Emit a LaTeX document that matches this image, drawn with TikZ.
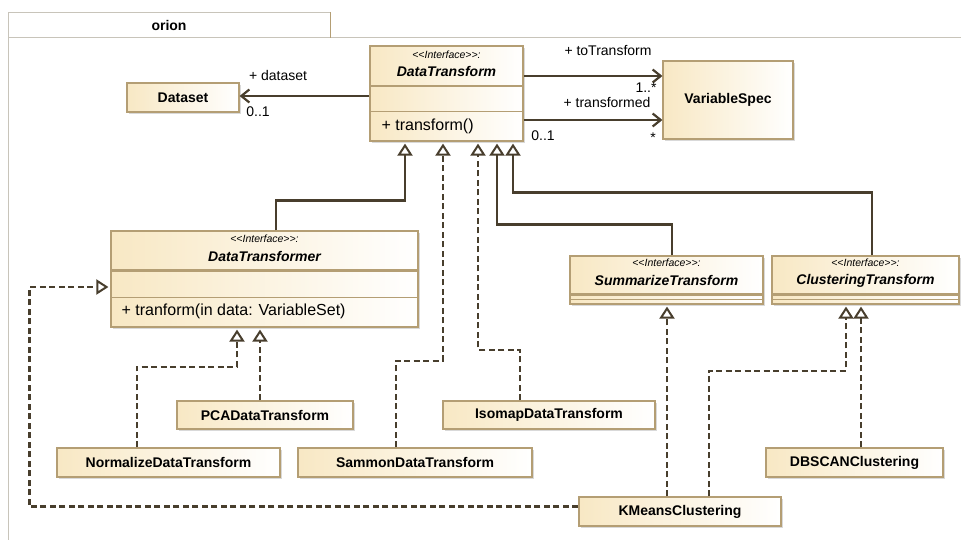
\documentclass[tikz,border=0pt]{standalone}
\usepackage{fontspec}
\setmainfont{Liberation Sans}
\usetikzlibrary{arrows.meta}
\usetikzlibrary{calc}
\usetikzlibrary{shadows}

\definecolor{umlline}{RGB}{72,62,45}
\definecolor{umlborder}{RGB}{180,158,116}
\definecolor{umlfill}{RGB}{248,232,196}
\definecolor{framegray}{RGB}{200,196,186}

\newcommand{\iface}{<\kern0pt<Interface>\kern0pt>:}

\tikzset{
  classbox/.style={draw=umlborder, line width=1.2pt, left color=umlfill, right color=white,
    inner sep=0pt, drop shadow={shadow xshift=2pt, shadow yshift=-2pt, fill=black, opacity=0.15}},
  classname/.style={font=\fontsize{14}{16}\selectfont\bfseries},
  ifacename/.style={font=\fontsize{14}{16}\selectfont\bfseries\itshape},
  stereo/.style={font=\fontsize{10.5}{12}\selectfont\itshape},
  member/.style={font=\fontsize{16}{18}\selectfont, anchor=west, inner sep=0pt},
  role/.style={font=\fontsize{14}{16}\selectfont, inner sep=0pt},
  compart/.style={draw=umlborder, line width=1.2pt},
  assoc/.style={draw=umlline, line width=2.2pt, -{Straight Barb[length=8pt,width=13pt,line width=2.2pt]}},
  general/.style={draw=umlline, line width=2.2pt, -{Triangle[open,length=12pt,width=15pt,line width=2pt]}},
  realize/.style={general, dash pattern=on 6pt off 3.5pt},
}

\begin{document}
\begin{tikzpicture}[x=1pt,y=-1pt]
  \useasboundingbox (0,0) rectangle (961,540);

  % package frame
  \draw[framegray, line width=1pt] (8,540) -- (8,38) -- (961,38);
  \node[draw=framegray, line width=1pt, fill=white, minimum width=322pt, minimum height=25pt,
    inner sep=0pt, classname] (pkg) at (169,25.5) {orion};
  \draw[umlborder, line width=1.5pt] (pkg.north east) -- (pkg.south east);

  % interfaces
  \node[classbox, minimum width=153pt, minimum height=95pt] (dt) at (446.5,93.5) {};
  \draw[compart, line width=2.2pt] ($(dt.north west)+(0,41)$) -- ($(dt.north east)+(0,41)$);
  \draw[compart] ($(dt.north west)+(0,66)$) -- ($(dt.north east)+(0,66)$);
  \node[stereo] (dt-st) at ($(dt.north)+(0,9)$) {\iface};
  \node[ifacename] (dt-name) at ($(dt.north)+(0,26)$) {DataTransform};
  \node[member] (dt-op) at ($(dt.north west)+(12,81)$) {+ transform()};

  \node[classbox, minimum width=307pt, minimum height=96pt] (dtr) at (264.5,279) {};
  \draw[compart, line width=2.2pt] ($(dtr.north west)+(0,40)$) -- ($(dtr.north east)+(0,40)$);
  \draw[compart] ($(dtr.north west)+(0,67)$) -- ($(dtr.north east)+(0,67)$);
  \node[stereo] (dtr-st) at ($(dtr.north)+(0,8)$) {\iface};
  \node[ifacename] (dtr-name) at ($(dtr.north)+(0,26)$) {DataTransformer};
  \node[member] (dtr-op) at ($(dtr.north west)+(11,81)$) {+ tranform(in data: VariableSet)};

  \node[classbox, minimum width=193pt, minimum height=48pt] (st) at (666.5,280) {};
  \draw[compart, line width=2.2pt] ($(st.north west)+(0,39)$) -- ($(st.north east)+(0,39)$);
  \draw[compart] ($(st.north west)+(0,44)$) -- ($(st.north east)+(0,44)$);
  \node[stereo] (st-st) at ($(st.north)+(0,7)$) {\iface};
  \node[ifacename] (st-name) at ($(st.north)+(0,25)$) {SummarizeTransform};

  \node[classbox, minimum width=187pt, minimum height=48pt] (ct) at (865.5,280) {};
  \draw[compart, line width=2.2pt] ($(ct.north west)+(0,39)$) -- ($(ct.north east)+(0,39)$);
  \draw[compart] ($(ct.north west)+(0,44)$) -- ($(ct.north east)+(0,44)$);
  \node[stereo] (ct-st) at ($(ct.north)+(0,7)$) {\iface};
  \node[ifacename] (ct-name) at ($(ct.north)+(0,25)$) {ClusteringTransform};

  % classes
  \node[classbox, classname, minimum width=112pt, minimum height=29pt] (ds) at (183,97.5) {Dataset};
  \node[classbox, classname, minimum width=130pt, minimum height=78pt] (vs) at (728,100) {VariableSpec};
  \node[classbox, classname, minimum width=176pt, minimum height=28pt] (pca) at (265,415) {PCADataTransform};
  \node[classbox, classname, minimum width=212pt, minimum height=28pt] (iso) at (549,415) {IsomapDataTransform};
  \node[classbox, classname, minimum width=223pt, minimum height=29pt] (norm) at (168.5,462.5) {NormalizeDataTransform};
  \node[classbox, classname, minimum width=234pt, minimum height=29pt] (sam) at (415,462.5) {SammonDataTransform};
  \node[classbox, classname, minimum width=177pt, minimum height=29pt] (dbs) at (854.5,462.5) {DBSCANClustering};
  \node[classbox, classname, minimum width=202pt, minimum height=29pt] (km) at (680,511.5) {KMeansClustering};

  % associations
  \draw[assoc] ($(dt.west)+(0,2.5)$) -- ($(ds.east)+(0,-1.5)$);
  \draw[assoc] ($(dt.east)+(0,-17.5)$) -- ($(vs.west)+(0,-24)$);
  \draw[assoc] ($(dt.east)+(0,26.5)$) -- ($(vs.west)+(0,20)$);

  \node[role] (l-ds) at (278,75) {+ dataset};
  \node[role] (l-ds-m) at (258,112) {0..1};
  \node[role] (l-tt) at (608,51) {+ toTransform};
  \node[role] (l-tt-m) at (646,88) {1..*};
  \node[role] (l-td) at (607,102) {+ transformed};
  \node[role] (l-td-s) at (543,136) {0..1};
  \node[role] (l-td-m) at (653,138) {*};

  % generalizations
  \draw[general] ($(dtr.north)+(11.5,0)$) |- ($(dt.south)+(-41.5,59)$) -- ($(dt.south)+(-41.5,2)$);
  \draw[general] ($(st.north)+(5.5,0)$) |- ($(dt.south)+(50.5,83)$) -- ($(dt.south)+(50.5,2)$);
  \draw[general] ($(ct.north)+(6.5,0)$) |- ($(dt.south)+(66.5,51)$) -- ($(dt.south)+(66.5,2)$);

  % realizations
  \draw[realize] ($(sam.north)+(-19,0)$) |- ($(dt.south)+(-3.5,219)$) -- ($(dt.south)+(-3.5,2)$);
  \draw[realize] ($(iso.north)+(-29,0)$) |- ($(dt.south)+(31.5,208)$) -- ($(dt.south)+(31.5,2)$);
  \draw[realize] ($(norm.north)+(-31.5,0)$) |- ($(dtr.south)+(-27.5,39)$) -- ($(dtr.south)+(-27.5,2)$);
  \draw[realize] ($(pca.north)+(-5,0)$) -- ($(dtr.south)+(-4.5,2)$);
  \draw[realize] ($(km.west)+(0,-5)$) -| ($(dtr.west)+(-81,8)$) -- ($(dtr.west)+(-2,8)$);
  \draw[realize] ($(km.north)+(-13,0)$) -- ($(st.south)+(0.5,2)$);
  \draw[realize] ($(km.north)+(29,0)$) |- ($(ct.south)+(-19.5,66)$) -- ($(ct.south)+(-19.5,2)$);
  \draw[realize] ($(dbs.north)+(6.5,0)$) -- ($(ct.south)+(-4.5,2)$);
\end{tikzpicture}
\end{document}
